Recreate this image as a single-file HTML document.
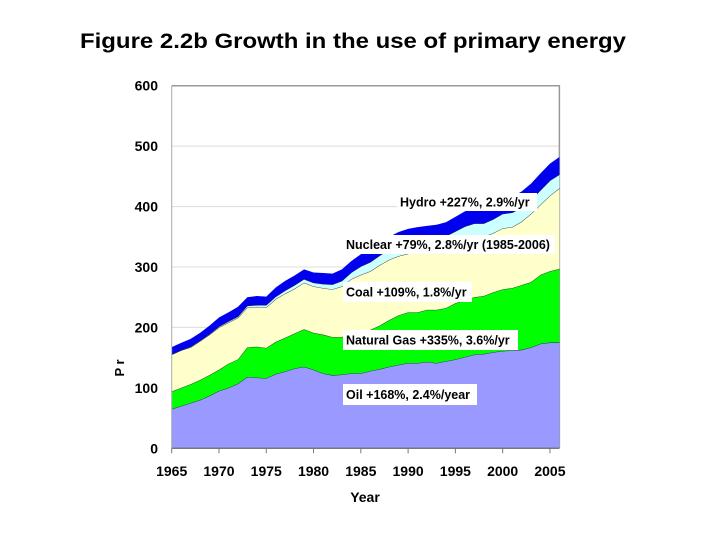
<!DOCTYPE html>
<html><head><meta charset="utf-8"><style>
body{margin:0;background:#fff;}
svg{display:block;font-family:"Liberation Sans",Arial,sans-serif;}
</style></head><body>
<svg id="chart" width="720" height="540">
<text x="353" y="48" text-anchor="middle" font-size="21" font-weight="bold" textLength="546" lengthAdjust="spacingAndGlyphs">Figure 2.2b Growth in the use of primary energy</text>
<g id="grid"></g>
<g id="areas"></g>
<g id="axes"></g>
<g id="labels"></g>
</svg>
<script>
const years = [1965,1966,1967,1968,1969,1970,1971,1972,1973,1974,1975,1976,1977,1978,1979,1980,1981,1982,1983,1984,1985,1986,1987,1988,1989,1990,1991,1992,1993,1994,1995,1996,1997,1998,1999,2000,2001,2002,2003,2004,2005,2006];
const oil = [65,70,75,80,87,95,100,107,118,117,116,123,127,132,135,130,124,121,122,124,124,128,131,135,138,141,141,143,141,144,147,151,155,156,159,161,162,163,167,173,175,175];
const gas = [29,30,31,33,34,35,40,40,49,51,50,53,56,58,62,61,64,63,62,68,70,68,72,77,82,84,84,86,88,88,93,94,95,96,99,102,103,107,108,114,118,122];
const coal = [61,62,61,64,67,70,68,69,66,66,67,71,73,74,77,77,77,79,84,88,93,97,100,100,98,97,99,96,98,98,98,100,100,98,98,101,101,105,113,116,125,133];
const nuclear = [0.5,0.5,1,1,1,1.5,2,2,3,3,4,4,5,6,6,6,7,8,9,11,14,15,16,17,18,19,19,20,20,21,21,22,22,22,23,24,24,23,23,24,25,23];
const hydro = [12,12,13,13,14,15,15,16,14,15,14,15,16,16,16,17,18,18,19,19,20,20,21,21,22,22,23,23,23,23,24,25,25,25,26,26,26,27,27,28,28,29];
const yTicks = [0,100,200,300,400,500,600];
const xTicks = [1965,1970,1975,1980,1985,1990,1995,2000,2005];

const NS="http://www.w3.org/2000/svg";
const x0=171.7, x1=559.4, y0=448.3, y1=85.7;
const xs = y => x0 + (y-1965)/(2006-1965)*(x1-x0);
const ys = v => y0 - v/600*(y0-y1);
function mk(tag, attrs, parent){const e=document.createElementNS(NS,tag);for(const k in attrs)e.setAttribute(k,attrs[k]);parent.appendChild(e);return e;}
const grid=document.getElementById('grid'), areas=document.getElementById('areas'), axes=document.getElementById('axes'), labels=document.getElementById('labels');

yTicks.forEach(t=>{
  if(t>0){const l=mk('line',{x1:x0,x2:x1,y1:ys(t),y2:ys(t),stroke:'#dcdcdc','stroke-width':1},grid);
  
  }
  const tx=mk('text',{x:158,y:ys(t)+5,'text-anchor':'end','font-size':14,'font-weight':'bold'},axes);
  tx.textContent=t;
  
  
});
const frame=mk('path',{d:`M${x0},${y1} H${x1} V${y0}`,fill:'none',stroke:'#999','stroke-width':1.5},grid);



const series=[['oil',oil,'#9999ff'],['natural-gas',gas,'#00ff00'],['coal',coal,'#ffffcc'],['nuclear',nuclear,'#ccffff'],['hydro',hydro,'#0000ee']];
let base=years.map(()=>0);
series.forEach(([name,vals,col])=>{
  const top=base.map((b,i)=>b+vals[i]);
  let d='M'+years.map((y,i)=>xs(y)+','+ys(top[i])).join(' L');
  for(let i=years.length-1;i>=0;i--) d+=' L'+xs(years[i])+','+ys(base[i]);
  d+=' Z';
  const p=mk('path',{d:d,fill:col,stroke:'none'},areas);
  
  
  if(name!=='hydro'){
    const ln=mk('polyline',{points:years.map((y,i)=>xs(y)+','+ys(top[i])).join(' '),fill:'none',stroke:'#223','stroke-width':0.8},areas);
    
    
  }
  base=top;
});

const xa=mk('line',{x1:x0,x2:x1,y1:y0,y2:y0,stroke:'#777','stroke-width':1.5},axes);


const ya=mk('line',{x1:x0,x2:x0,y1:y1,y2:y0,stroke:'#aaa','stroke-width':1},axes);


xTicks.forEach(t=>{
  const tk=mk('line',{x1:xs(t),x2:xs(t),y1:y0,y2:y0+5,stroke:'#777'},axes);
  
  
  const tx=mk('text',{x:xs(t),y:476,'text-anchor':'middle','font-size':14,'font-weight':'bold'},axes);
  tx.textContent=t;
  
  
});
const xt=mk('text',{x:365,y:502,'text-anchor':'middle','font-size':14,'font-weight':'bold'},axes);
xt.textContent='Year';


const yt=mk('text',{x:0,y:0,'text-anchor':'middle','font-size':13,'font-weight':'bold',transform:'translate(124,368) rotate(-90)'},axes);
yt.textContent='P r';



const boxes=[
 ['hydro-label','Hydro +227%, 2.9%/yr',397,193,140,18],
 ['nuclear-label','Nuclear +79%, 2.8%/yr (1985-2006)',343,235,212,19],
 ['coal-label','Coal +109%, 1.8%/yr',343,282,129,20],
 ['gas-label','Natural Gas +335%, 3.6%/yr',343,330,175,20],
 ['oil-label','Oil +168%, 2.4%/year',343,384,134,21]
];
boxes.forEach(([n,t,x,y,w,h])=>{
  const r=mk('rect',{x:x,y:y,width:w,height:h,fill:'#fff'},labels);
  
  
  const tx=mk('text',{x:x+3,y:y+h/2+4.5,'font-size':12.5,'font-weight':'bold'},labels);
  tx.textContent=t;
  
  
});
</script>
</body></html>
